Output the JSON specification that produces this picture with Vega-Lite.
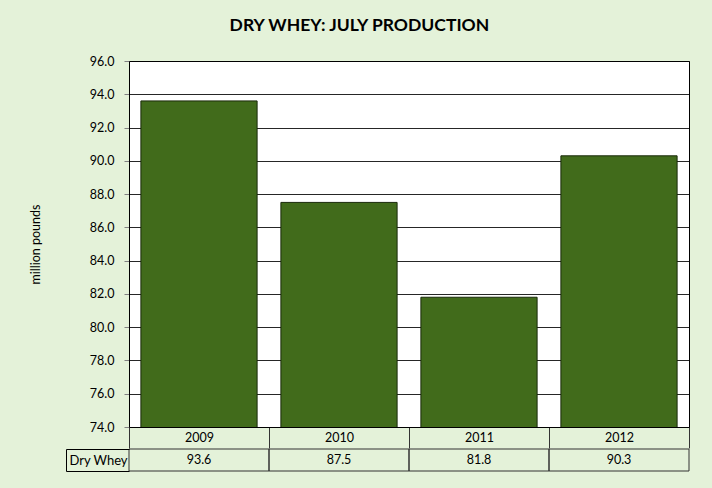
{
  "$schema": "https://vega.github.io/schema/vega-lite/v6.json",
  "background": "#E4F2D9",
  "padding": {"left": 28, "top": 17, "right": 24, "bottom": 17},
  "spacing": -8,
  "title": {"text": "DRY WHEY: JULY PRODUCTION", "fontSize": 17.5, "fontWeight": "bold", "font": "Lato", "color": "black", "anchor": "middle", "offset": 20},
  "datasets": {
    "whey": [
      {"year": "2009", "series": "Dry Whey", "value": 93.6},
      {"year": "2010", "series": "Dry Whey", "value": 87.5},
      {"year": "2011", "series": "Dry Whey", "value": 81.8},
      {"year": "2012", "series": "Dry Whey", "value": 90.3}
    ]
  },
  "config": {
    "font": "Lato",
    "axis": {"labelFont": "Lato", "titleFont": "Lato", "labelFontSize": 12.5, "labelColor": "black", "titleColor": "black", "titleFontWeight": "normal", "titleFontSize": 12.5}
  },
  "vconcat": [
    {
      "width": 560,
      "height": 366,
      "data": {"name": "whey"},
      "view": {"fill": "white", "stroke": "black"},
      "mark": {"type": "bar", "clip": true, "color": "#416B1B", "stroke": "#1A2A0A", "strokeWidth": 1, "width": {"band": 0.83}},
      "encoding": {
        "x": {
          "field": "year", "type": "nominal",
          "scale": {"paddingInner": 0, "paddingOuter": 0},
          "axis": {"title": null, "labelAngle": 0, "tickBand": "extent", "tickSize": 21, "tickColor": "#333333", "domainColor": "black", "labelPadding": -17}
        },
        "y": {
          "field": "value", "type": "quantitative",
          "scale": {"domain": [74, 96], "zero": false, "nice": false},
          "axis": {"title": "million pounds", "values": [74, 76, 78, 80, 82, 84, 86, 88, 90, 92, 94, 96], "format": ".1f", "grid": true, "gridColor": "black", "gridOpacity": 0.85, "tickSize": 5, "tickColor": "#808080", "domainColor": "black", "labelPadding": 10, "titlePadding": 47}
        }
      }
    },
    {
      "width": 560,
      "height": 22,
      "data": {"name": "whey"},
      "view": {"stroke": null},
      "encoding": {
        "x": {"field": "year", "type": "nominal", "scale": {"paddingInner": 0, "paddingOuter": 0}, "axis": null},
        "y": {
          "field": "series", "type": "nominal",
          "scale": {"paddingInner": 0, "paddingOuter": 0},
          "axis": {"title": null, "orient": "left", "offset": 63, "domainColor": "black", "tickBand": "extent", "tickSize": -63, "tickColor": "black", "labelAlign": "center", "labelPadding": 31, "labelFontSize": 13}
        }
      },
      "layer": [
        {"mark": {"type": "rect", "fill": "transparent", "stroke": "#333333", "strokeWidth": 1}},
        {"mark": {"type": "text", "fontSize": 12.5, "color": "black", "baseline": "middle"}, "encoding": {"text": {"field": "value", "type": "quantitative", "format": ".1f"}}}
      ]
    }
  ]
}
